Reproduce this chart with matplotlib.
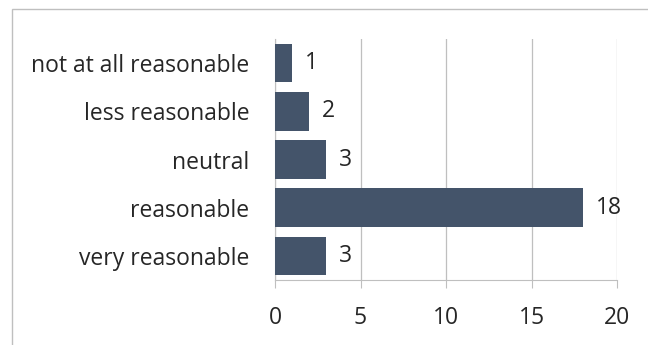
import matplotlib.pyplot as plt
from matplotlib.patches import Rectangle

# survey answers, top to bottom
categories = ['not at all reasonable', 'less reasonable', 'neutral', 'reasonable', 'very reasonable']
counts = [1, 2, 3, 18, 3]
xticks = [0, 5, 10, 15, 20]

plt.rcParams['font.family'] = ['Open Sans', 'DejaVu Sans']
fs = 16.5

fig = plt.figure(figsize=(6.48, 3.45), dpi=100)
ax = fig.add_axes([275/648, 1 - 280/345, (617-275)/648, (280-39)/345])

# outer chart border (left and top edges visible)
fig.patches.append(Rectangle((11.5/648, -0.1), 1.2, 1 - 9.5/345 + 0.1, transform=fig.transFigure,
                             fill=False, edgecolor='#BFBFBF', linewidth=1.0))

y = list(range(len(categories)))
ax.barh(y, counts, height=0.8, color='#44546A', zorder=3)
for yi, c in zip(y, counts):
    ax.text(c + 0.75, yi, str(c), va='center', ha='left', fontsize=fs, color='#262626')

ax.set_xlim(0, 20)
ax.set_ylim(len(categories) - 0.5, -0.5)
ax.set_xticks(xticks)
ax.set_yticks(y)
ax.set_yticklabels(categories)
ax.grid(axis='x', color='#BFBFBF', linewidth=0.9, zorder=0)
for s in ['top', 'right']:
    ax.spines[s].set_visible(False)
ax.spines['left'].set_color('#BFBFBF')
ax.spines['bottom'].set_color('#BFBFBF')
ax.tick_params(axis='x', length=5.8, color='#BFBFBF', labelsize=fs, labelcolor='#262626', pad=13)
ax.tick_params(axis='y', length=0, labelsize=fs, labelcolor='#262626', pad=18.5)

fig.savefig('out.png', dpi=100)
